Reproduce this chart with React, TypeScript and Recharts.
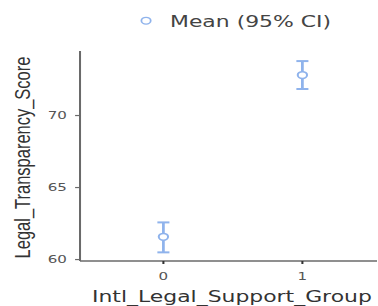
import { ComposedChart, Scatter, ErrorBar, XAxis, YAxis } from 'recharts';

// group means with 95% CI bounds
const groups = [0, 1];
const means = [61.58, 72.81];
const ciLower = [60.5, 71.84];
const ciUpper = [62.58, 73.78];
const xTicks = [0, 1];
const yTicks = [60, 65, 70];

const data = groups.map((g, i) => ({
  group: g,
  mean: means[i],
  ci: [means[i] - ciLower[i], ciUpper[i] - means[i]],
}));

// the reference looks horizontally stretched, so draw narrow and scale
const STRETCH = 1.37;
const W = 378 / STRETCH;
const H = 306;
const BLUE = '#8fb3ec';
const AXIS = '#6a6a6a';
const FONT = "'DejaVu Sans', sans-serif";

const Dot = (props: any) => (
  <circle cx={props.cx} cy={props.cy} r={3.4} fill="#fff" stroke={BLUE} strokeWidth={1.5} />
);

const XLabel = (props: any) => {
  const vb = props.viewBox || {};
  return (
    <text x={vb.x + vb.width / 2 + 2.5} y={302.5} textAnchor="middle" fontSize={16} fill="#333" fontFamily={FONT}>
      Intl_Legal_Support_Group
    </text>
  );
};

const YLabel = (props: any) => {
  const vb = props.viewBox || {};
  const cy = vb.y + vb.height / 2 + 1.5;
  return (
    <text
      transform={`translate(16, ${cy}) rotate(-90)`}
      textAnchor="middle"
      dominantBaseline="central"
      fontSize={16.5}
      fill="#333"
      fontFamily="'Liberation Sans', Arial, sans-serif"
    >
      Legal_Transparency_Score
    </text>
  );
};

export default function App() {
  return (
    <div
      style={{
        position: 'absolute',
        left: 0,
        top: 0,
        width: W,
        height: H,
        background: '#fff',
        transform: `scaleX(${STRETCH})`,
        transformOrigin: '0 0',
      }}
    >
      <svg width={W} height={40} style={{ position: 'absolute', left: 0, top: 0 }}>
        <circle cx={106.6} cy={20.7} r={3.4} fill="#fff" stroke={BLUE} strokeWidth={1.3} />
        <text x={124.1} y={26.7} fontSize={16} fill="#444" fontFamily={FONT}>
          Mean (95% CI)
        </text>
      </svg>
      <ComposedChart width={W} height={H} margin={{ top: 51, right: 0.7, left: 0, bottom: 0 }}>
        <XAxis
          type="number"
          dataKey="group"
          domain={[-0.6, 1.537]}
          ticks={xTicks}
          allowDataOverflow
          height={45}
          tickSize={3}
          tickMargin={8}
          stroke={AXIS}
          axisLine={{ stroke: AXIS, strokeWidth: 1.5 }}
          tickLine={{ stroke: '#333', strokeWidth: 1.5 }}
          tick={{ fill: '#555', fontSize: 11, fontFamily: FONT }}
          label={<XLabel />}
        />
        <YAxis
          type="number"
          dataKey="mean"
          domain={[59.9, 74.48]}
          ticks={yTicks}
          allowDataOverflow
          width={58.4}
          tickSize={3.6}
          tickMargin={6}
          stroke={AXIS}
          axisLine={{ stroke: AXIS, strokeWidth: 1.5 }}
          tickLine={{ stroke: AXIS, strokeWidth: 1.2 }}
          tick={{ fill: '#555', fontSize: 11, fontFamily: FONT }}
          label={<YLabel />}
        />
        <Scatter data={data} dataKey="mean" shape={<Dot />} isAnimationActive={false}>
          <ErrorBar dataKey="ci" direction="y" width={4.4} stroke={BLUE} strokeWidth={2} />
        </Scatter>
      </ComposedChart>
    </div>
  );
}
